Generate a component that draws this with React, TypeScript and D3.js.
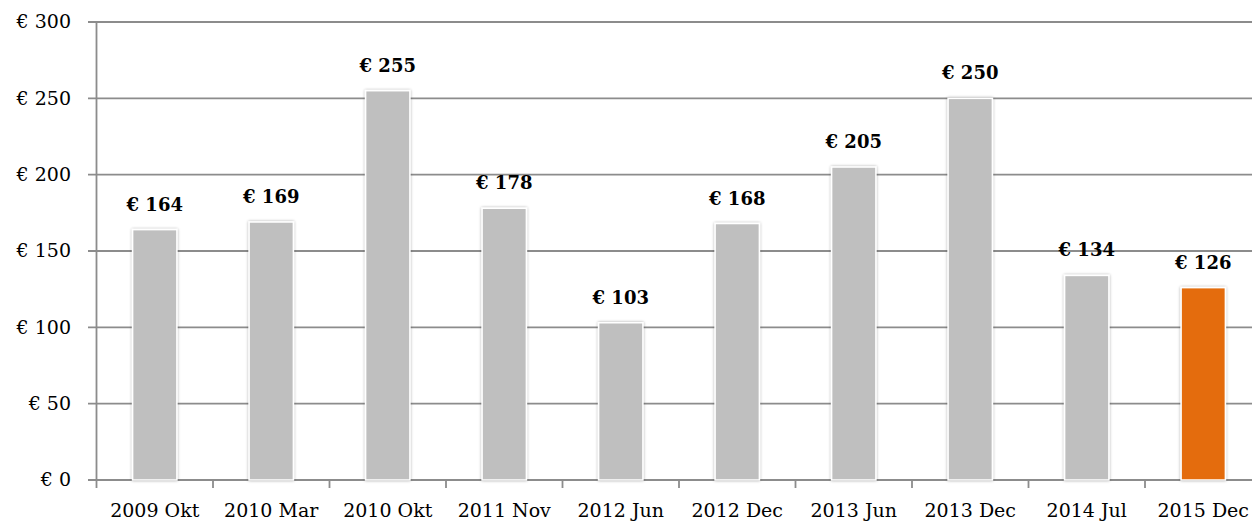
import React from "react";
import * as d3 from "d3";

const categories = ["2009 Okt", "2010 Mar", "2010 Okt", "2011 Nov", "2012 Jun", "2012 Dec", "2013 Jun", "2013 Dec", "2014 Jul", "2015 Dec"];
const values = [164, 169, 255, 178, 103, 168, 205, 250, 134, 126];
const yTicks = [0, 50, 100, 150, 200, 250, 300];
const highlight = "2015 Dec";

const W = 1252;
const H = 522;
const left = 96.5;
const bandW = 116.5;
const right = left + bandW * categories.length;
const top = 22;
const bottom = 480;
const font = "'DejaVu Serif', serif";
const gridColor = "#8c8c8c";

export default function App() {
  const x = d3.scaleBand<string>().domain(categories).range([left, right]).paddingInner(0.62).paddingOuter(0.31);
  const y = d3.scaleLinear().domain([0, 300]).range([bottom, top]);
  const bounds = d3.range(categories.length + 1).map((i) => left + i * bandW);
  return (
    <div style={{ position: "fixed", left: 0, top: 0, width: W, height: H, background: "#fff" }}>
      <svg width={W} height={H} style={{ display: "block" }}>
        <defs>
          <filter id="glow" x="-30%" y="-10%" width="160%" height="120%">
            <feGaussianBlur in="SourceAlpha" stdDeviation="1.6" />
            <feComponentTransfer>
              <feFuncA type="linear" slope="0.35" />
            </feComponentTransfer>
            <feMerge>
              <feMergeNode />
              <feMergeNode in="SourceGraphic" />
            </feMerge>
          </filter>
        </defs>
        {yTicks.map((t) => (
          <g key={t}>
            <line x1={88} x2={W} y1={y(t)} y2={y(t)} stroke={gridColor} strokeWidth={1.8} />
            <text x={71} y={y(t)} dy="0.33em" textAnchor="end" fontFamily={font} fontSize={19} fill="#000">
              {"€ " + t}
            </text>
          </g>
        ))}
        <line x1={left} x2={left} y1={top} y2={bottom + 1} stroke={gridColor} strokeWidth={1.8} />
        {bounds.map((b, i) => (
          <line key={i} x1={b} x2={b} y1={bottom} y2={bottom + 8} stroke={gridColor} strokeWidth={1.8} />
        ))}
        {categories.map((c, i) => (
          <g key={c}>
            <rect
              x={x(c)}
              y={y(values[i])}
              width={x.bandwidth()}
              height={bottom - y(values[i])}
              fill={c === highlight ? "#E46C0A" : "#BFBFBF"}
              stroke="#fff"
              strokeWidth={1.5}
              filter="url(#glow)"
            />
            <text
              x={(x(c) as number) + x.bandwidth() / 2}
              y={y(values[i]) - 19}
              textAnchor="middle"
              fontFamily={font}
              fontWeight="bold"
              fontSize={18}
              fill="#000"
            >
              {"€ " + values[i]}
            </text>
            <text
              x={(x(c) as number) + x.bandwidth() / 2}
              y={517}
              textAnchor="middle"
              fontFamily={font}
              fontSize={19}
              fill="#000"
            >
              {c}
            </text>
          </g>
        ))}
      </svg>
    </div>
  );
}
